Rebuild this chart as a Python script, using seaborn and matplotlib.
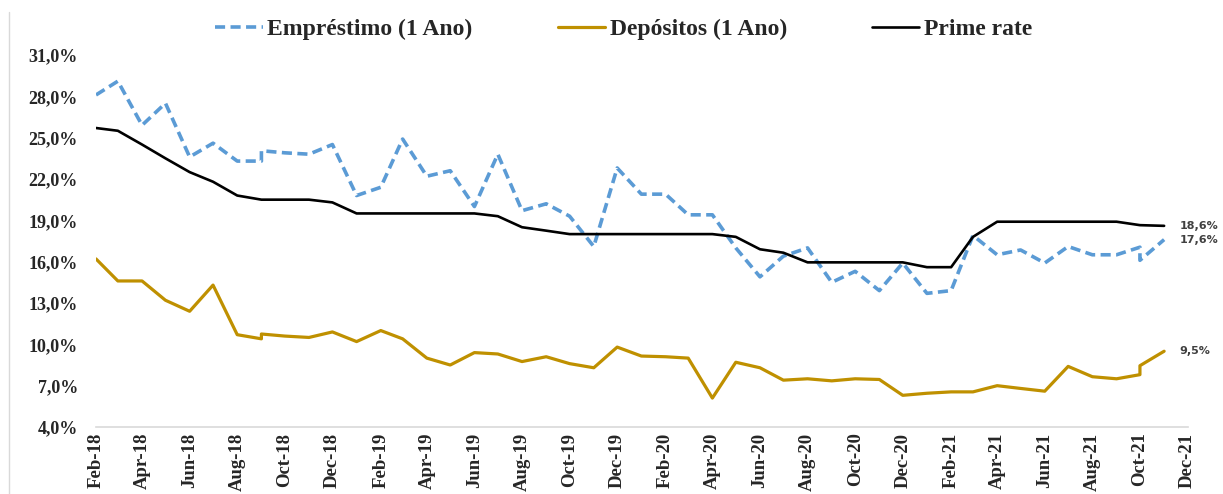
import numpy as np
import pandas as pd
import matplotlib.pyplot as plt
import matplotlib.dates as mdates
import matplotlib.ticker as mticker
from matplotlib.lines import Line2D
import seaborn as sns

# meses (Set-18 e Out-21 aparecem duas vezes na série original)
meses = ["2018-02", "2018-03", "2018-04", "2018-05", "2018-06", "2018-07", "2018-08",
         "2018-09", "2018-09", "2018-10", "2018-11", "2018-12",
         "2019-01", "2019-02", "2019-03", "2019-04", "2019-05", "2019-06",
         "2019-07", "2019-08", "2019-09", "2019-10", "2019-11", "2019-12",
         "2020-01", "2020-02", "2020-03", "2020-04", "2020-05", "2020-06",
         "2020-07", "2020-08", "2020-09", "2020-10", "2020-11", "2020-12",
         "2021-01", "2021-02", "2021-03", "2021-04", "2021-05", "2021-06",
         "2021-07", "2021-08", "2021-09", "2021-10", "2021-10", "2021-11"]

emprestimo = [28.1, 29.1, 25.9, 27.5, 23.6, 24.6, 23.3,
              23.3, 24.05, 23.9, 23.8, 24.5,
              20.8, 21.4, 24.9, 22.2, 22.6, 20.0,
              23.8, 19.7, 20.2, 19.3, 17.1, 22.8,
              20.9, 20.9, 19.4, 19.4, 17.0, 14.9,
              16.4, 17.0, 14.5, 15.3, 13.9, 15.9,
              13.7, 13.9, 17.9, 16.5, 16.85, 15.9,
              17.1, 16.5, 16.5, 17.05, 16.1, 17.6]

depositos = [16.2, 14.6, 14.6, 13.2, 12.4, 14.3, 10.7,
             10.4, 10.75, 10.6, 10.5, 10.9,
             10.2, 11.0, 10.4, 9.0, 8.5, 9.4,
             9.3, 8.75, 9.1, 8.6, 8.3, 9.8,
             9.15, 9.1, 9.0, 6.1, 8.7, 8.3,
             7.4, 7.5, 7.35, 7.5, 7.45, 6.3,
             6.45, 6.55, 6.55, 7.0, 6.8, 6.6,
             8.4, 7.65, 7.5, 7.8, 8.45, 9.5]

prime = [25.7, 25.5, 24.5, 23.5, 22.5, 21.8, 20.8,
         20.5, 20.5, 20.5, 20.5, 20.3,
         19.5, 19.5, 19.5, 19.5, 19.5, 19.5,
         19.3, 18.5, 18.25, 18.0, 18.0, 18.0,
         18.0, 18.0, 18.0, 18.0, 17.8, 16.9,
         16.65, 15.95, 15.95, 15.95, 15.95, 15.95,
         15.6, 15.6, 17.8, 18.9, 18.9, 18.9,
         18.9, 18.9, 18.9, 18.65, 18.65, 18.6]

nomes = ["Empréstimo (1 Ano)", "Depósitos (1 Ano)", "Prime rate"]
rotulos_finais = ["17,6%", "9,5%", "18,6%"]
ticks_y = [4, 7, 10, 13, 16, 19, 22, 25, 28, 31]

df = pd.DataFrame({
    "data": pd.to_datetime(meses),
    nomes[0]: emprestimo,
    nomes[1]: depositos,
    nomes[2]: prime,
})

sns.set_style("white")
plt.rcParams["font.family"] = ["Liberation Serif", "DejaVu Serif"]

fig = plt.figure(figsize=(12.23, 4.94), dpi=100)
ax = fig.add_axes([0.0785, 0.1356, 0.8925, 0.7531])

sns.lineplot(data=df, x="data", y=nomes[0], ax=ax, color="#5B9BD5", linewidth=2.6,
             linestyle=(0, (2.8, 1.5)), estimator=None, sort=False, label=nomes[0])
sns.lineplot(data=df, x="data", y=nomes[1], ax=ax, color="#BF9000", linewidth=2.3,
             estimator=None, sort=False, label=nomes[1])
sns.lineplot(data=df, x="data", y=nomes[2], ax=ax, color="black", linewidth=1.9,
             estimator=None, sort=False, label=nomes[2])

# rótulos do último ponto
for nome, rot in zip(nomes, rotulos_finais):
    ax.annotate(rot, xy=(df["data"].iloc[-1], df[nome].iloc[-1]), xytext=(11, 0),
                textcoords="offset points", va="center", ha="left", fontsize=8,
                fontweight="bold", color="#404040", family="DejaVu Sans",
                annotation_clip=False)

ax.set_ylim(4, 31)
ax.set_xlim(pd.Timestamp("2018-02-01"), pd.Timestamp("2021-12-01"))
ax.set_yticks(ticks_y)
ax.yaxis.set_major_formatter(mticker.FuncFormatter(lambda v, p: f"{v:.1f}%".replace(".", ",")))
ax.xaxis.set_major_locator(mdates.MonthLocator(bymonth=[2, 4, 6, 8, 10, 12]))
ax.xaxis.set_major_formatter(mdates.DateFormatter("%b-%y"))

ax.tick_params(axis="y", length=0, pad=13, labelsize=13)
ax.tick_params(axis="x", length=0, pad=4, labelsize=13.5, rotation=90)
for t in ax.get_xticklabels() + ax.get_yticklabels():
    t.set_fontweight("bold")

ax.set_xlabel("")
ax.set_ylabel("")
for s in ["top", "right", "left"]:
    ax.spines[s].set_visible(False)
ax.spines["bottom"].set_color("#D9D9D9")
ax.spines["bottom"].set_linewidth(1.2)
ax.grid(False)

handles, labels = ax.get_legend_handles_labels()
ax.get_legend().remove()
fig.legend(handles, labels, loc="center", bbox_to_anchor=(0.51, 0.941), ncol=3,
           frameon=False, handlelength=2.0, handletextpad=0.2, columnspacing=3.6,
           prop={"weight": "bold", "size": 17})

# borda esquerda da área do gráfico
fig.add_artist(Line2D([0.007, 0.007], [0.0, 0.975], transform=fig.transFigure,
                      color="#D9D9D9", linewidth=1))

plt.savefig("out.png", dpi=100)
